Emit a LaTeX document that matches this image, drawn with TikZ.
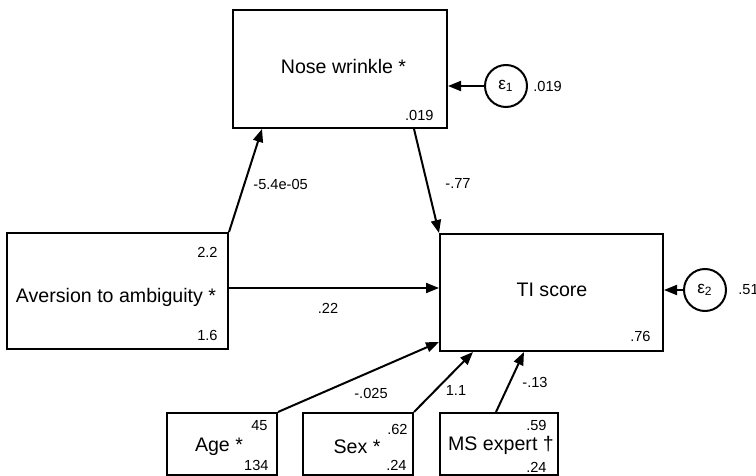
\documentclass[tikz,border=0pt]{standalone}
\usepackage{fontspec}
\setmainfont{Liberation Sans}
\usetikzlibrary{arrows.meta,calc}

\tikzset{
  var/.style={draw, line width=1pt, rectangle, inner sep=0pt,
    font=\fontsize{9.8}{11}\selectfont},
  err/.style={draw, line width=1pt, circle, inner sep=0pt, minimum size=21pt,
    font=\fontsize{8.6}{10}\selectfont},
  num/.style={inner sep=0pt, font=\fontsize{7.3}{8.5}\selectfont},
  path/.style={line width=1pt, -{Triangle[length=6.5pt,width=5pt]}},
}

\begin{document}
\begin{tikzpicture}[x=0.5pt, y=-0.5pt]
  \useasboundingbox (0,0) rectangle (756,476);

  % observed variables
  \node[var, minimum width=107pt, minimum height=59pt] (nose) at (340,69) {};
  \node[var, minimum width=111.5pt, minimum height=58.5pt] (ti) at (551.5,292.5) {};
  \node[var, minimum width=110.5pt, minimum height=58pt] (av) at (117.5,291) {};
  \node[var, minimum width=55pt, minimum height=31pt] (age) at (222,444) {};
  \node[var, minimum width=55pt, minimum height=31pt] (sex) at (358,444) {};
  \node[var, minimum width=59pt, minimum height=31pt] (ms) at (499,444) {};

  % variable names
  \node[var, draw=none] (noseT) at (343.5,66) {Nose wrinkle *};
  \node[var, draw=none] (tiT) at (552,290) {TI score};
  \node[var, draw=none] (avT) at (116,297) {Aversion to ambiguity *};
  \node[var, draw=none] (ageT) at (219,447) {Age *};
  \node[var, draw=none] (sexT) at (357,447) {Sex *};
  \node[var, draw=none] (msT) at (501,445) {MS expert †};

  % error terms
  \node[err] (e1) at (506,86) {ε\textsubscript{1}};
  \node[err] (e2) at (705,290) {ε\textsubscript{2}};
  \node[num, anchor=west] (e1v) at (533,86) {.019};
  \node[num, anchor=west] (e2v) at (738,290) {.51};

  % intercepts, means and variances
  \node[num, anchor=east] (avA) at (218,252) {2.2};
  \node[num, anchor=east] (avB) at (218,335) {1.6};
  \node[num, anchor=east] (noseA) at (434,115) {.019};
  \node[num, anchor=east] (tiA) at (651,336) {.76};
  \node[num, anchor=east] (ageA) at (268,426) {45};
  \node[num, anchor=east] (ageB) at (269,465) {134};
  \node[num, anchor=east] (sexA) at (408,429) {.62};
  \node[num, anchor=east] (sexB) at (407,465) {.24};
  \node[num, anchor=east] (msA) at (547,425) {.59};
  \node[num, anchor=east] (msB) at (547,467) {.24};

  % paths
  \draw[path] (av.north east) -- ($(nose.south west)+(30,0)$);
  \draw[path] ($(nose.south east)+(-34,0)$) -- (ti.north west);
  \draw[path] ($(av.east)+(0,-3)$) coordinate (avR) -- (avR -| ti.west);
  \draw[path] (age.north east) -- ($(ti.south west)+(0,-10)$);
  \draw[path] (sex.north east) -- ($(ti.south west)+(34,0)$);
  \draw[path] ($(ms.north west)+(57,0)$) -- ($(ti.south west)+(85,0)$);
  \draw[path] (e1.west) -- (e1.west -| nose.east);
  \draw[path] (e2.west) -- (e2.west -| ti.east);

  % path coefficients
  \node[num, anchor=west] (c1) at (253,184) {-5.4e-05};
  \node[num, anchor=west] (c2) at (445,183) {-.77};
  \node[num] (c3) at (328,308) {.22};
  \node[num] (c4) at (371,393) {-.025};
  \node[num] (c5) at (456,390) {1.1};
  \node[num] (c6) at (535,382) {-.13};
\end{tikzpicture}
\end{document}
